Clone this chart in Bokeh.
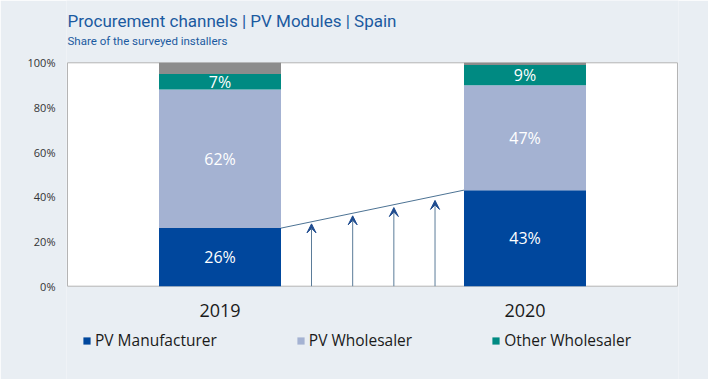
from bokeh.plotting import figure
from bokeh.models import (Range1d, FixedTicker, PrintfTickFormatter, Legend,
                          LegendItem, Arrow, VeeHead, ColumnDataSource)
from bokeh.core.properties import value
from bokeh.embed import file_html
from bokeh.resources import INLINE

# ---- data ----
title_text = "Procurement channels | PV Modules | Spain"
subtitle_text = "Share of the surveyed installers"
years = ["2019", "2020"]
pv_manufacturer = [26, 43]
pv_wholesaler = [62, 47]
other_wholesaler = [7, 9]
other_rest = [5, 1]
series_names = ["PV Manufacturer", "PV Wholesaler", "Other Wholesaler", "Other"]
series_colors = ["#00479d", "#a4b2d2", "#008a82", "#8c8c8c"]
y_ticks = [0, 20, 40, 60, 80, 100]
arrow_x = [0.80, 0.935, 1.07, 1.205]
arrow_tip = [27.9, 31.5, 35.2, 38.4]

# ---- layout constants ----
series = [pv_manufacturer, pv_wholesaler, other_wholesaler, other_rest]
xs = [i + 0.5 for i in range(len(years))]
BAR_W = 0.4
FONT = value("Open Sans")
TFONT = value("Roboto")
BG = "#e9eef3"
W, H = 708, 379
TOP_PX = 62.3          # pixel row of 100 %
PLOT_PX = 223.4        # pixels spanned by 0..100 %
X_PAD = 0.0033


def px_to_y(px):
    return 100 - (px - TOP_PX) / PLOT_PX * 100


p = figure(width=W, height=H, output_backend="svg", toolbar_location=None,
           x_range=Range1d(-X_PAD, len(years) + X_PAD),
           y_range=Range1d(px_to_y(H), px_to_y(0)),
           min_border_left=66, min_border_right=30, min_border_top=0,
           min_border_bottom=0, title=None)
p.background_fill_color = BG
p.border_fill_color = BG
p.outline_line_color = None
p.xgrid.visible = False
p.ygrid.visible = False
p.xaxis.visible = False

# white plot area with grey border
p.quad(left=[0], right=[len(years)], bottom=[0], top=[100], fill_color="white",
       line_color="#b4b4b4", line_width=1)

# titles
p.text(x=[0], y=[px_to_y(20.7)], text=[title_text], text_color="#1b5aa0",
       text_font=TFONT, text_font_size="17px", text_align="left",
       text_baseline="alphabetic")
p.text(x=[0], y=[px_to_y(40)], text=[subtitle_text], text_color="#1b5aa0",
       text_font=TFONT, text_font_size="11.5px", text_align="left",
       text_baseline="alphabetic")

# stacked bars
renderers = []
bottoms = [0] * len(years)
for vals, name, col in zip(series, series_names, series_colors):
    tops = [b + v for b, v in zip(bottoms, vals)]
    src = ColumnDataSource(dict(x=xs, bottom=bottoms, top=tops,
                                mid=[(b + t) / 2 for b, t in zip(bottoms, tops)],
                                lab=[f"{v}%" for v in vals]))
    r = p.vbar(x="x", bottom="bottom", top="top", width=BAR_W, source=src,
               fill_color=col, line_color=None)
    renderers.append(r)
    if name != "Other":
        p.text(x="x", y="mid", text="lab", source=src, text_color="white",
               text_font=FONT, text_font_size="16px", text_align="center",
               text_baseline="middle")
    bottoms = tops

# year labels under the bars
p.text(x=xs, y=[px_to_y(310.2)] * len(xs), text=years, text_color="#1a1a1a",
       text_font=FONT, text_font_size="18px", text_align="center",
       text_baseline="middle")

# connecting line between manufacturer shares
p.line(x=[xs[0] + BAR_W / 2, xs[1] - BAR_W / 2],
       y=[pv_manufacturer[0], pv_manufacturer[1]], line_color="#4d7394", line_width=1)

# arrows
for ax, tip in zip(arrow_x, arrow_tip):
    p.add_layout(Arrow(end=VeeHead(size=9, fill_color="#1e4b8f", line_color="#1e4b8f"),
                       x_start=ax, y_start=0, x_end=ax, y_end=tip,
                       line_color="#5b7c99", line_width=1))

# y axis
p.yaxis.ticker = FixedTicker(ticks=y_ticks)
p.yaxis.formatter = PrintfTickFormatter(format="%d%%")
p.yaxis.axis_line_color = None
p.yaxis.major_tick_line_color = None
p.yaxis.minor_tick_line_color = None
p.yaxis.major_tick_out = 0
p.yaxis.major_label_standoff = 11
p.yaxis.major_label_text_font = "Open Sans"
p.yaxis.major_label_text_font_size = "11px"
p.yaxis.major_label_text_color = "#333333"

# legend
legend = Legend(items=[LegendItem(label=n, renderers=[r])
                       for n, r in zip(series_names[:3], renderers[:3])],
                location=(16, 28), orientation="horizontal",
                background_fill_alpha=0, border_line_color=None,
                padding=0, margin=0, spacing=79, glyph_width=9, glyph_height=9,
                label_standoff=4, label_height=9,
                label_text_font="Open Sans", label_text_font_size="15.5px",
                label_text_color="#1a1a1a")
p.add_layout(legend)

open("out.html", "w").write(file_html(p, INLINE))
